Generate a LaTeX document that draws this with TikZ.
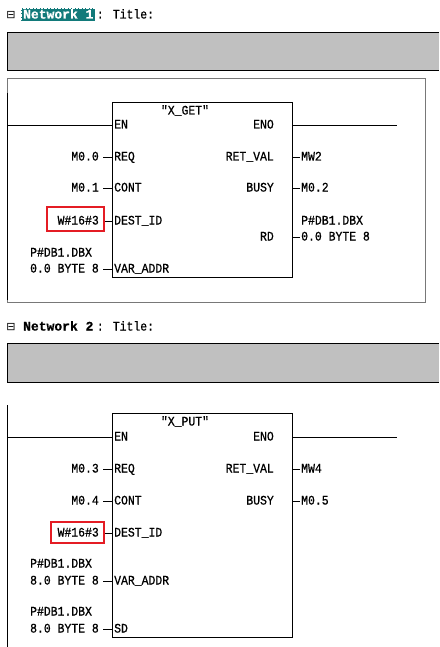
\documentclass[tikz,border=0pt]{standalone}
\usepackage{fontspec}
\newfontfamily\plcfont[FakeStretch=0.88,FakeBold=0.8]{Liberation Mono}
\newfontfamily\hdfont[FakeBold=1]{Liberation Mono}
\newfontfamily\symfont{DejaVu Sans}
\usetikzlibrary{positioning}

\definecolor{cmtgray}{RGB}{192,192,192}
\definecolor{framegray}{RGB}{120,120,120}
\definecolor{selteal}{RGB}{18,122,122}
\definecolor{markred}{RGB}{228,28,36}

\tikzstyle{txt} = [font=\plcfont\fontsize{13}{14}\selectfont, text height=8pt, text depth=1pt, inner ysep=1pt]
\tikzstyle{inlbl} = [txt, anchor=east, inner xsep=4pt]
\tikzstyle{outlbl} = [txt, anchor=west, inner xsep=1pt]
\tikzstyle{pinl} = [txt, anchor=west, inner xsep=2pt]
\tikzstyle{pinr} = [txt, anchor=east, inner xsep=2pt]
\tikzstyle{fb} = [draw, line width=1pt, anchor=north west, minimum width=180pt]
\tikzstyle{wire} = [line width=0.9pt]
\tikzstyle{redmark} = [draw=markred, line width=2.2pt]
\tikzstyle{hdr} = [font=\hdfont\bfseries\fontsize{13}{14}\selectfont, text height=9pt, text depth=2pt, inner xsep=2pt, inner ysep=1pt, anchor=west]
\tikzstyle{tog} = [font=\symfont\fontsize{11}{12}\selectfont, inner sep=0pt]

\begin{document}
\begin{tikzpicture}[x=1pt,y=-1pt]
\useasboundingbox (0,0) rectangle (439,647);

% network 1
\node[tog] (tog1) at (11,15) {⊟};
\node[hdr, fill=selteal, text=white, draw=white, densely dotted] (net1) at (21,15) {Network 1};
\node[txt, anchor=west, inner xsep=1pt] (ttl1) at (net1.east) {: Title:};
\fill[cmtgray] (7,32) rectangle (439,70);
\draw[wire] (439,32) -- (7,32) -- (7,70) -- (439,70);
\draw[framegray, line width=0.8pt] (7,78) rectangle (425,302);
\coordinate (rail1a) at (7,93);
\coordinate (rail1b) at (7,300);
\draw[wire] (rail1a) -- (rail1b);

\node[fb, minimum height=175pt] (get) at (112,102) {};
\node[txt] (get-name) at (185,111) {"X\_GET"};
\node[pinl] (get-en) at (112,125) {EN};
\node[pinl] (get-req) at (112,157) {REQ};
\node[pinl] (get-cont) at (112,188) {CONT};
\node[pinl] (get-dest) at (112,221) {DEST\_ID};
\node[pinl] (get-var) at (112,269) {VAR\_ADDR};
\node[pinr] (get-eno) at (276,125) {ENO};
\node[pinr] (get-ret) at (276,157) {RET\_VAL};
\node[pinr] (get-busy) at (276,188) {BUSY};
\node[pinr] (get-rd) at (276,237) {RD};

\node[inlbl] (m00) at (103,157) {M0.0};
\node[inlbl] (m01) at (103,188) {M0.1};
\node[inlbl] (id1) at (103,221) {W\#16\#3};
\node[inlbl] (var1) at (103,269) {0.0 BYTE 8};
\node[inlbl, anchor=west] (var1-hi) at (var1.west |- 0,253) {P\#DB1.DBX};
\node[outlbl] (mw2) at (300,157) {MW2};
\node[outlbl] (m02) at (300,188) {M0.2};
\node[outlbl] (rd1-hi) at (300,221) {P\#DB1.DBX};
\node[outlbl] (rd1) at (300,237) {0.0 BYTE 8};
\coordinate (eno1) at (397,125);

\draw[wire] (rail1a |- get-en) -- (get-en.west);
\draw[wire] (get.east |- get-eno) -- (eno1);
\draw[wire] (m00.east) -- (get-req.west);
\draw[wire] (m01.east) -- (get-cont.west);
\draw[wire] (id1.east) -- (get-dest.west);
\draw[wire] (var1.east) -- (get-var.west);
\draw[wire] (get.east |- get-ret) -- (mw2.west);
\draw[wire] (get.east |- get-busy) -- (m02.west);
\draw[wire] (get.east |- get-rd) -- (rd1.west);
\draw[redmark] (47,207) rectangle (104,231);

% network 2
\node[tog] (tog2) at (11,327) {⊟};
\node[hdr] (net2) at (21,327) {Network 2};
\node[txt, anchor=west, inner xsep=1pt] (ttl2) at (net2.east) {: Title:};
\fill[cmtgray] (7,343) rectangle (439,382);
\draw[wire] (439,343) -- (7,343) -- (7,382) -- (439,382);
\coordinate (rail2a) at (7,405);
\coordinate (rail2b) at (7,647);
\draw[wire] (rail2a) -- (rail2b);

\node[fb, minimum height=224pt] (put) at (112,413) {};
\node[txt] (put-name) at (185,422) {"X\_PUT"};
\node[pinl] (put-en) at (112,437) {EN};
\node[pinl] (put-req) at (112,469) {REQ};
\node[pinl] (put-cont) at (112,501) {CONT};
\node[pinl] (put-dest) at (112,533) {DEST\_ID};
\node[pinl] (put-var) at (112,581) {VAR\_ADDR};
\node[pinl] (put-sd) at (112,629) {SD};
\node[pinr] (put-eno) at (276,437) {ENO};
\node[pinr] (put-ret) at (276,469) {RET\_VAL};
\node[pinr] (put-busy) at (276,501) {BUSY};

\node[inlbl] (m03) at (103,469) {M0.3};
\node[inlbl] (m04) at (103,501) {M0.4};
\node[inlbl] (id2) at (103,533) {W\#16\#3};
\node[inlbl] (var2) at (103,581) {8.0 BYTE 8};
\node[inlbl, anchor=west] (var2-hi) at (var2.west |- 0,564) {P\#DB1.DBX};
\node[inlbl] (sd2) at (103,629) {8.0 BYTE 8};
\node[inlbl, anchor=west] (sd2-hi) at (sd2.west |- 0,612) {P\#DB1.DBX};
\node[outlbl] (mw4) at (300,469) {MW4};
\node[outlbl] (m05) at (300,501) {M0.5};
\coordinate (eno2) at (397,437);

\draw[wire] (rail2a |- put-en) -- (put-en.west);
\draw[wire] (put.east |- put-eno) -- (eno2);
\draw[wire] (m03.east) -- (put-req.west);
\draw[wire] (m04.east) -- (put-cont.west);
\draw[wire] (id2.east) -- (put-dest.west);
\draw[wire] (var2.east) -- (put-var.west);
\draw[wire] (sd2.east) -- (put-sd.west);
\draw[wire] (put.east |- put-ret) -- (mw4.west);
\draw[wire] (put.east |- put-busy) -- (m05.west);
\draw[redmark] (51,522) rectangle (104,543);
\end{tikzpicture}
\end{document}
